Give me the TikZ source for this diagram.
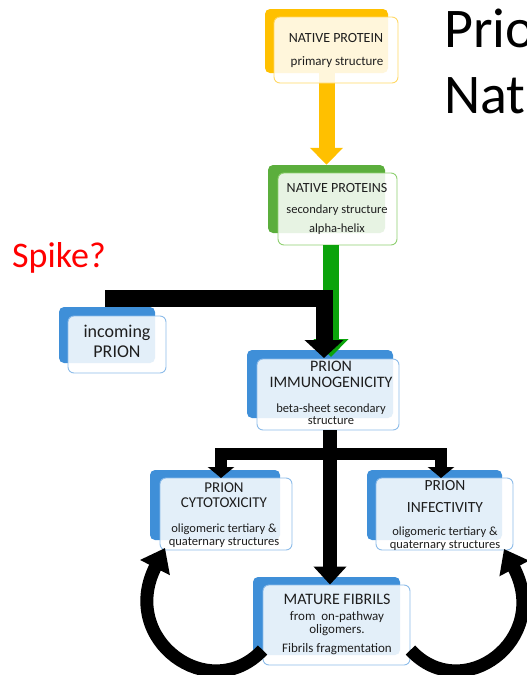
\documentclass[tikz,border=0pt]{standalone}
\usepackage{fontspec}
\setmainfont{Carlito}
\usetikzlibrary{arrows.meta}
\definecolor{cyel}{HTML}{FFC000}
\definecolor{cyelb}{HTML}{FFD966}
\definecolor{cgrn}{HTML}{5BAE3C}
\definecolor{cgrnb}{HTML}{8FD071}
\definecolor{cgrnarr}{HTML}{0BA30B}
\definecolor{cblu}{HTML}{3F8FD8}
\definecolor{cblub}{HTML}{8DBCE9}
\definecolor{ctxt}{HTML}{1E1E1E}
\tikzset{
  backbox/.style={rectangle, rounded corners=5pt, inner sep=0pt, draw=none},
  frontbox/.style={rectangle, rounded corners=6pt, inner sep=0pt, fill=white, fill opacity=0.86, line width=0.9pt},
  txt/.style={anchor=mid, inner sep=0pt, text=ctxt},
  blockarrow/.style={line width=#1, line join=miter},
}
\newcommand{\fs}[1]{\fontsize{#1}{#1}\selectfont}
\begin{document}
\begin{tikzpicture}[x=1pt,y=-1pt]
\useasboundingbox (0,0) rectangle (527,675);
\clip (0,0) rectangle (527,675);
% title
\node[anchor=base west, inner sep=0pt, font=\fs{56}] (title1) at (444,47) {Prio};
\node[anchor=base west, inner sep=0pt, font=\fs{56}] (title2) at (444,113) {Nat};
\node[anchor=base west, inner sep=0pt, font=\fs{36}, text=red] (spike) at (12,267) {Spike?};

% boxes: back
\node[backbox, fill=cyel, minimum width=123pt, minimum height=64pt] (npB) at (326.5,41) {};
\node[backbox, fill=cgrn, minimum width=117pt, minimum height=68pt] (np2B) at (326.5,199) {};
\node[backbox, fill=cblu, minimum width=96pt, minimum height=56pt] (incB) at (107,335) {};
\node[backbox, fill=cblu, minimum width=146pt, minimum height=68pt] (immB) at (320,384) {};
\node[backbox, fill=cblu, minimum width=130pt, minimum height=70pt] (cytB) at (215,505) {};
\node[backbox, fill=cblu, minimum width=135pt, minimum height=70pt] (infB) at (434.5,505) {};
\node[backbox, fill=cblu, minimum width=147pt, minimum height=78pt] (fibB) at (326.5,616) {};

% connectors (drawn before front boxes where they go under)
\draw[blockarrow=16pt, cyel, -{Triangle[length=17pt,width=32pt]}] (npB.south) -- (np2B.north);

\coordinate (grnEnd) at (331,357);
\coordinate (incStart) at (105,298.5);
\coordinate (incEnd) at (324,358);
\coordinate (brL) at (221,478);
\coordinate (brR) at (441,478);
\coordinate (brJ) at (330,454);
\coordinate (cytTip) at (165,548);
\coordinate (infTip) at (504,549);

% front boxes
\node[frontbox, draw=cyelb, minimum width=124pt, minimum height=66pt] (np) at (336,50) {};
\node[frontbox, draw=cgrnb, minimum width=119pt, minimum height=72pt] (np2) at (337.5,209) {};
\node[frontbox, draw=cblub, minimum width=98pt, minimum height=57pt] (inc) at (117,344.5) {};
\node[frontbox, draw=cblub, minimum width=142pt, minimum height=71pt] (imm) at (328,394.5) {};
\node[frontbox, draw=cblub, minimum width=132pt, minimum height=72pt] (cyt) at (226,514) {};
\node[frontbox, draw=cblub, minimum width=137pt, minimum height=72pt] (inf) at (444.5,514) {};
\node[frontbox, draw=cblub, minimum width=147pt, minimum height=80pt] (fib) at (336.5,625) {};

% green arrow and black incoming arrow
\draw[blockarrow=16pt, cgrnarr, -{Triangle[length=18pt,width=34pt]}] (np2.south -| grnEnd) -- (grnEnd);
\draw[blockarrow=17pt, black, -{Triangle[length=18pt,width=38pt]}] (incStart) -| (incEnd);

% black tree
\draw[blockarrow=14pt, black, -{Triangle[length=18pt,width=32pt]}] (imm.south -| fib.north) ++(-6.5,0) coordinate (trunkTop) -- (trunkTop |- fib.north);
\draw[blockarrow=12pt, black, -{Triangle[length=11pt,width=26pt]}] (brJ) -| (brL);
\draw[blockarrow=12pt, black, -{Triangle[length=11pt,width=26pt]}] (brJ) -| (brR);

% curved arrows
\draw[line width=13pt, black, -{Triangle[length=22pt,width=32pt]}] (fib.west |- 0,650) .. controls (210,706) and (118,640) .. (cytTip);
\draw[line width=13pt, black, -{Triangle[length=22pt,width=32pt]}] (fib.east |- 0,650) .. controls (462,706) and (552,640) .. (infTip);

% texts
\node[txt, font=\fs{14}] (npT1) at (336,40) {NATIVE PROTEIN};
\node[txt, font=\fs{13}] (npT2) at (337,63) {primary structure};
\node[txt, font=\fs{14}] (np2T1) at (337,190) {NATIVE PROTEINS};
\node[txt, font=\fs{12.5}] (np2T2) at (337,211) {secondary structure};
\node[txt, font=\fs{12.5}] (np2T3) at (337,230) {alpha-helix};
\node[txt, font=\fs{18}] (incT1) at (117,335) {incoming};
\node[txt, font=\fs{18}] (incT2) at (117,355) {PRION};
\node[txt, font=\fs{16}] (immT1) at (331,369) {PRION};
\node[txt, font=\fs{16}] (immT2) at (331,385) {IMMUNOGENICITY};
\node[txt, font=\fs{12.5}] (immT3) at (331,410) {beta-sheet secondary};
\node[txt, font=\fs{12.5}] (immT4) at (331,422) {structure};
\node[txt, font=\fs{15}] (cytT1) at (224,490) {PRION};
\node[txt, font=\fs{15}] (cytT2) at (224,505) {CYTOTOXICITY};
\node[txt, font=\fs{12.5}] (cytT3) at (224,530) {oligomeric tertiary \&};
\node[txt, font=\fs{12.5}] (cytT4) at (224,543) {quaternary structures};
\node[txt, font=\fs{15.5}] (infT1) at (445,488) {PRION};
\node[txt, font=\fs{15.5}] (infT2) at (445,510) {INFECTIVITY};
\node[txt, font=\fs{12.5}] (infT3) at (445,533) {oligomeric tertiary \&};
\node[txt, font=\fs{12.5}] (infT4) at (445,546) {quaternary structures};
\node[txt, font=\fs{16}] (fibT1) at (337,602) {MATURE FIBRILS};
\node[txt, font=\fs{13}] (fibT2) at (337,618) {from\ \ on-pathway};
\node[txt, font=\fs{13}] (fibT3) at (337,631) {oligomers.};
\node[txt, font=\fs{13}] (fibT4) at (337,650) {Fibrils fragmentation};
\end{tikzpicture}
\end{document}
